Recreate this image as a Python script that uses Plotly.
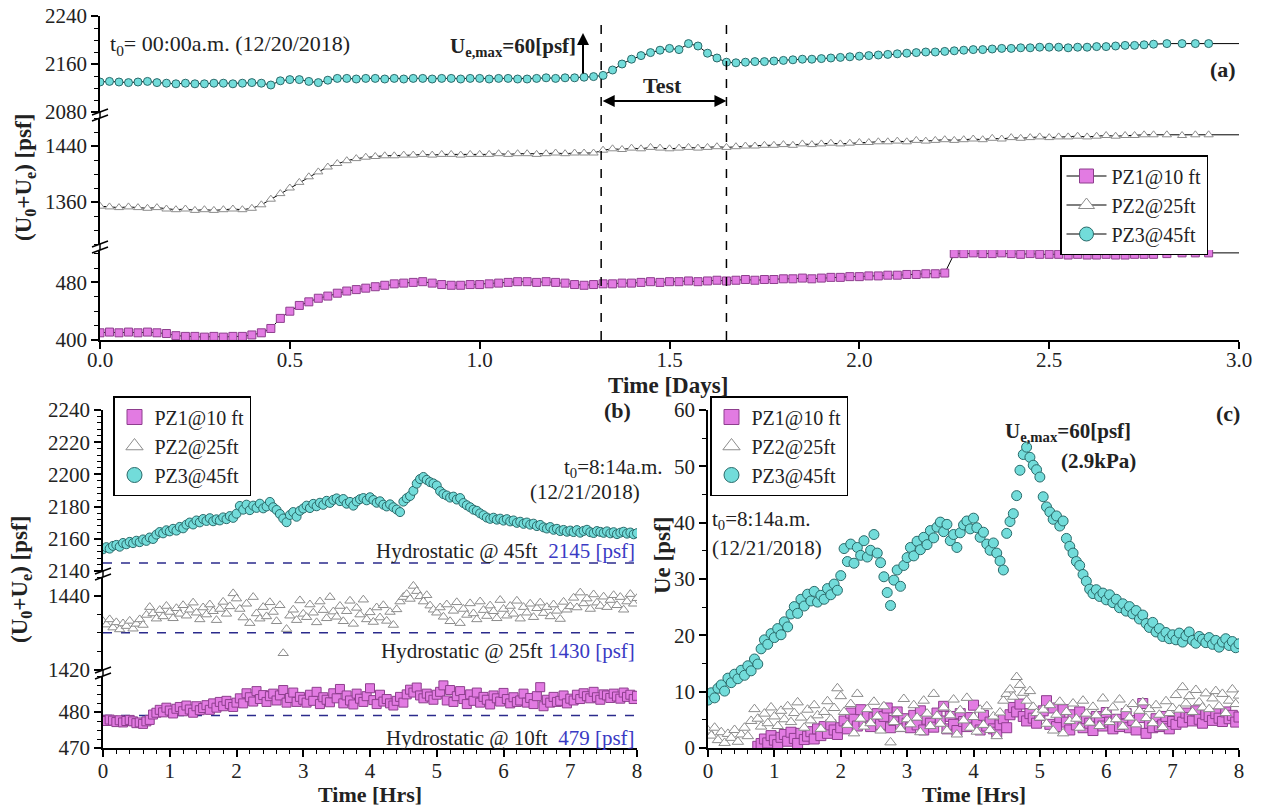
import plotly.graph_objects as go

W, H = 1261, 808
def px(x): return x / W
def py(y): return 1 - y / H

SERIF = "Liberation Serif, Times New Roman, serif"
TXT = "#222222"

# ---------------- Panel (a): long-term record, Time [Days] ----------------
a_step = 0.025
a_pz1 = [410, 411, 410, 411, 410, 411, 410, 409, 406, 405, 405,
         404, 405, 404, 405, 405, 407, 410, 416, 430, 440,
         448, 453, 458, 461, 465, 468, 470, 472, 474, 476,
         478, 479, 480, 481, 479, 477, 476, 476, 477, 477,
         478, 479, 480, 481, 481, 480, 481, 480, 479, 477,
         476, 477, 478, 478, 479, 479, 480, 481, 480, 481,
         481, 482, 481, 482, 483, 482, 483, 484, 483, 484,
         484, 485, 485, 486, 485, 486, 487, 487, 488, 488,
         489, 489, 490, 490, 491, 491, 492, 492, 493, 520,
         520, 521, 520, 520, 521, 520, 519, 520, 519, 519,
         519, 518, 519, 518, 518, 519, 518, 518, 519, 519,
         519]
a_pz2 = [1354, 1353, 1352, 1353, 1352, 1351, 1352, 1350, 1349, 1350, 1348,
         1349, 1348, 1349, 1350, 1349, 1351, 1356, 1364, 1372, 1380,
         1388, 1396, 1403, 1410, 1415, 1419, 1422, 1424, 1425, 1426,
         1426, 1427, 1427, 1428, 1427, 1428, 1428, 1427, 1428, 1428,
         1428, 1429, 1428, 1429, 1429, 1428, 1429, 1430, 1429, 1430,
         1430, 1430, 1434, 1436, 1435, 1437, 1436, 1438, 1437, 1436,
         1437, 1438, 1437, 1438, 1439, 1438, 1439, 1440, 1440, 1441,
         1441, 1442, 1441, 1443, 1442, 1443, 1444, 1443, 1444, 1445,
         1445, 1446, 1446, 1447, 1446, 1448, 1447, 1448, 1449, 1448,
         1449, 1450, 1449, 1451, 1450, 1452, 1451, 1452, 1453, 1452,
         1453, 1453, 1454, 1453, 1454, 1455, 1454, 1455, 1455, 1456,
         1456]
a_pz3 = [2130, 2131, 2130, 2129, 2130, 2131, 2129, 2128, 2127, 2128, 2127,
         2127, 2128, 2128, 2127, 2128, 2129, 2128, 2125, 2132, 2134,
         2134, 2131, 2129, 2133, 2136, 2136, 2135, 2136, 2136, 2135,
         2136, 2135, 2136, 2136, 2135, 2136, 2136, 2135, 2136, 2136,
         2135, 2136, 2136, 2135, 2135, 2136, 2137, 2136, 2137, 2137,
         2138, 2139, 2141, 2150, 2160, 2168, 2174, 2179, 2183, 2186,
         2184, 2194, 2190, 2178, 2170, 2163, 2162, 2163, 2164, 2164,
         2165, 2166, 2167, 2168, 2168, 2169, 2170, 2171, 2172, 2173,
         2174, 2175, 2176, 2177, 2178, 2179, 2180, 2180, 2181, 2182,
         2183, 2184, 2184, 2185, 2186, 2186, 2187, 2187, 2188, 2188,
         2188, 2187, 2188, 2188, 2189, 2189, 2190, 2191, 2191, 2192,
         2193]
a_days = [round(i * a_step, 3) for i in range(len(a_pz1))]
a_tail_days = [2.81, 2.85, 2.885, 2.92]
a_tail_pz1 = [520, 521, 521, 521]
a_tail_pz2 = [1456, 1455, 1456, 1456]
a_tail_pz3 = [2194, 2194, 2194, 2194]
a_end_day = 3.0
test_start, test_end = 1.32, 1.65

# ---------------- Panels (b) and (c): test period, Time [Hrs] ----------------
c_step = 0.05
ue_pz1 = [-1.2, -1.5, -1.1, -1.4, -1.8, -1.3, -1.9, -1.5, -1.2, -1.6, -2.1,
          -1.9, -2.3, -1.6, -1.2, 0.3, 0.8, 1.6, 0.9, 2.2, 1.4,
          0.6, 1.9, 2.4, 1.2, 2.8, 1.7, 0.8, 2.6, 1.5, 2.1,
          2.9, 1.6, 3.4, 2.2, 3.8, 2.6, 4.1, 3.2, 2.4, 3.6,
          4.8, 3.4, 6.2, 5.1, 3.9, 6.8, 4.6, 5.7, 3.8, 5.4,
          6.1, 4.2, 5.6, 7.1, 3.6, 4.9, 6.4, 3.8, 5.2, 4.4,
          3.6, 5.8, 4.1, 6.6, 3.2, 5.1, 4.4, 3.7, 6.2, 4.8,
          7.4, 3.4, 5.6, 4.2, 3.1, 6.1, 4.7, 3.8, 5.4, 7.6,
          4.3, 3.2, 5.8, 3.9, 4.6, 3.4, 2.8, 4.1, 5.2, 3.6,
          5.9, 7.2, 6.4, 7.8, 5.6, 4.8, 6.1, 5.3, 4.4, 5.8,
          6.6, 8.4, 4.2, 7.1, 3.8, 5.4, 6.8, 4.6, 3.2, 5.9,
          4.1, 6.4, 3.6, 5.2, 4.4, 3.1, 5.6, 4.8, 3.9, 6.3,
          4.6, 3.4, 5.1, 3.8, 4.2, 6.1, 3.6, 4.9, 3.2, 5.4,
          7.9, 2.6, 4.4, 3.6, 5.2, 3.8, 4.1, 5.6, 3.4, 4.7,
          4.2, 5.8, 4.6, 6.2, 5.4, 4.8, 6.6, 5.1, 4.4, 5.9,
          5.6, 4.9, 6.1, 5.3, 4.7, 6.4, 5.2, 5.8, 4.6, 5.5]
ue_pz2 = [3.1, 2.2, 3.6, 1.4, 2.8, 0.9, 2.5, 1.8, 3.2, 1.1, 2.4,
          3.6, 2.1, 4.8, 6.9, 5.2, 3.8, 6.1, 4.4, 7.2, 5.6,
          3.9, 6.6, 5.1, 7.4, 4.6, 6.2, 8.1, 5.4, 3.6, 6.8,
          4.9, 7.6, 5.8, 3.4, 6.4, 8.3, 5.1, 7.1, 10.6, 9.2,
          6.4, 4.1, 7.8, 2.6, 9.6, 5.2, 3.8, 6.9, 4.4, 8.2,
          5.6, 3.1, 7.4, -5.5, 1.0, 4.6, 6.2, 3.4, 8.7, 5.1,
          4.2, 7.6, 5.4, 2.8, 8.4, 6.1, 3.9, 9.6, 5.7, 4.3,
          7.2, 3.1, 5.8, 8.6, 2.4, 6.7, 4.9, 8.9, 3.6, 5.5,
          2.9, 6.8, 4.1, 7.4, 3.2, 5.6, 2.1, 6.3, 8.4, 9.6,
          10.4, 9.1, 12.6, 11.2, 9.8, 8.4, 10.1, 7.3, 6.2, 5.4,
          6.8, 4.3, 7.6, 3.1, 5.9, 8.2, 2.6, 6.4, 4.8, 7.9,
          5.2, 3.6, 8.4, 6.1, 4.5, 7.3, 5.8, 3.9, 8.8, 6.4,
          4.6, 7.2, 5.1, 8.6, 3.8, 6.9, 5.4, 7.8, 4.2, 6.6,
          8.1, 5.3, 6.9, 4.4, 7.6, 5.9, 3.7, 8.3, 6.2, 7.1,
          9.4, 6.8, 10.8, 7.9, 9.2, 6.4, 10.3, 8.1, 7.2, 9.7,
          6.9, 8.8, 10.1, 7.4, 9.6, 6.2, 8.4, 10.4, 7.8, 9.3]
ue_pz3 = [8.5, 9.8, 8.9, 10.6, 11.2, 10.1, 12.4, 11.6, 13.1, 12.3, 13.8,
          12.9, 14.6, 13.7, 15.8, 14.9, 17.6, 19.2, 18.4, 20.3, 19.6,
          21.2, 20.1, 22.4, 21.5, 23.8, 25.1, 23.9, 26.4, 25.2, 27.3,
          26.1, 27.8, 25.9, 27.1, 26.4, 28.3, 27.2, 29.1, 28.0, 30.6,
          35.4, 33.1, 36.2, 32.8, 35.6, 34.2, 36.8, 33.9, 35.1, 37.9,
          34.6, 32.9, 30.4, 27.6, 25.3, 29.8, 31.6, 28.7, 32.4, 33.8,
          35.6, 34.1, 36.7, 35.2, 37.4, 36.1, 38.6, 37.3, 39.2, 40.1,
          38.4, 39.7, 36.8, 37.9, 35.6, 38.2, 39.6, 40.3, 38.9, 40.8,
          39.1, 37.4, 38.3, 36.2, 35.1, 36.4, 34.6, 33.2, 31.6, 38.1,
          40.2, 41.6, 44.8, 49.3, 52.1, 53.4, 51.6, 50.2, 49.4, 48.1,
          44.6, 42.8, 41.9, 40.6, 41.2, 39.4, 40.3, 37.2, 35.8, 34.6,
          33.1, 32.4, 30.8, 29.6, 28.2, 27.4, 28.1, 26.9, 27.5, 26.3,
          27.2, 25.8, 26.4, 24.9, 25.6, 24.3, 25.1, 23.8, 24.4, 22.9,
          23.6, 22.1, 21.4, 22.3, 20.6, 21.2, 19.8, 20.5, 19.4, 20.1,
          19.2, 20.4, 18.8, 19.9, 20.6, 19.1, 18.6, 19.8, 19.3, 18.7,
          19.6, 18.4, 19.1, 17.9, 18.8, 19.4, 18.2, 18.9, 17.8, 18.5]
c_hours = [round(i * c_step, 2) for i in range(len(ue_pz3))]
hydro_pz1, hydro_pz2, hydro_pz3 = 479, 1430, 2145
b_pz1 = [hydro_pz1 + v for v in ue_pz1]
b_pz2 = [hydro_pz2 + v for v in ue_pz2]
b_pz3 = [hydro_pz3 + v for v in ue_pz3]

names = ["PZ1@10 ft", "PZ2@25ft", "PZ3@45ft"]

# ---------------- styles ----------------
PZ1_FILL, PZ1_EDGE = "#E27BE2", "#8E3E8E"
PZ2_FILL, PZ2_EDGE = "#FFFFFF", "#8C8C8C"
PZ3_FILL, PZ3_EDGE = "#72DCDA", "#2A6A6A"

def mk(symbol, fill, edge, size):
    return dict(symbol=symbol, color=fill, size=size, line=dict(color=edge, width=1))

sty = [("square", PZ1_FILL, PZ1_EDGE), ("triangle-up", PZ2_FILL, PZ2_EDGE), ("circle", PZ3_FILL, PZ3_EDGE)]

fig = go.Figure()

# panel (a)
a_series = [(a_pz1, a_tail_pz1, "y"), (a_pz2, a_tail_pz2, "y2"), (a_pz3, a_tail_pz3, "y3")]
for i, (vals, tail, ya) in enumerate(a_series):
    xs = a_days + a_tail_days
    ys = vals + tail
    fig.add_trace(go.Scatter(x=xs + [a_end_day], y=ys + [ys[-1]], mode="lines",
                             line=dict(color="black", width=1), xaxis="x", yaxis=ya,
                             showlegend=False, hoverinfo="skip"))
    fig.add_trace(go.Scatter(x=xs, y=ys, mode="markers", showlegend=False,
                             marker=mk(sty[i][0], sty[i][1], sty[i][2], 8),
                             xaxis="x", yaxis=ya))
    fig.add_trace(go.Scatter(x=[None], y=[None], mode="lines+markers", name=names[i],
                             line=dict(color="black", width=1.2),
                             marker=mk(sty[i][0], sty[i][1], sty[i][2], 14),
                             xaxis="x", yaxis=ya, legend="legend"))

# panel (b)
for i, (vals, ya) in enumerate([(b_pz1, "y4"), (b_pz2, "y5"), (b_pz3, "y6")]):
    fig.add_trace(go.Scatter(x=c_hours, y=vals, mode="markers", showlegend=False,
                             marker=mk(sty[i][0], sty[i][1], sty[i][2], 9),
                             xaxis="x2", yaxis=ya))
    fig.add_trace(go.Scatter(x=[None], y=[None], mode="markers", name=names[i],
                             marker=mk(sty[i][0], sty[i][1], sty[i][2], 15),
                             xaxis="x2", yaxis=ya, legend="legend2"))

# panel (c)
for i, vals in enumerate([ue_pz1, ue_pz2, ue_pz3]):
    fig.add_trace(go.Scatter(x=c_hours, y=vals, mode="markers", showlegend=False,
                             marker=mk(sty[i][0], sty[i][1], sty[i][2], 10),
                             xaxis="x3", yaxis="y7"))
    fig.add_trace(go.Scatter(x=[None], y=[None], mode="markers", name=names[i],
                             marker=mk(sty[i][0], sty[i][1], sty[i][2], 15),
                             xaxis="x3", yaxis="y7", legend="legend3"))

tickfont = dict(family=SERIF, size=21, color=TXT)
def axis(**kw):
    d = dict(showline=True, linecolor="black", linewidth=1.5, ticks="outside",
             tickcolor="black", tickwidth=1.5, ticklen=7, showgrid=False,
             zeroline=False, tickfont=tickfont, fixedrange=True, automargin=False)
    d.update(kw)
    return d

def minor(dt):
    return dict(dtick=dt, ticks="outside", ticklen=4, tickcolor="black", tickwidth=1, showgrid=False)

fig.update_layout(
    template="none",
    width=W, height=H, margin=dict(l=0, r=0, t=0, b=0, pad=0), autosize=False,
    paper_bgcolor="white", plot_bgcolor="rgba(0,0,0,0)",
    font=dict(family=SERIF, color=TXT),
    xaxis=axis(domain=[px(100), px(1239)], range=[0, 3], anchor="y",
               tickvals=[0, 0.5, 1.0, 1.5, 2.0, 2.5, 3.0], tickformat=".1f",
               ticklabelstandoff=-7),
    yaxis=axis(domain=[py(340), py(250)], range=[400, 525], anchor="x",
               tickvals=[400, 480], minor=minor(20)),
    yaxis2=axis(domain=[py(244), py(118)], range=[1300, 1480], anchor="x",
                tickvals=[1360, 1440], minor=minor(20)),
    yaxis3=axis(domain=[py(112), py(16)], range=[2080, 2240], anchor="x",
                tickvals=[2080, 2160, 2240], minor=minor(20)),
    xaxis2=axis(domain=[px(103), px(637)], range=[0, 8], anchor="y4",
                dtick=1, minor=minor(0.2), ticklabelstandoff=-4),
    yaxis4=axis(domain=[py(748), py(676)], range=[470, 490], anchor="x2",
                tickvals=[470, 480], minor=minor(2.5)),
    yaxis5=axis(domain=[py(670), py(577)], range=[1420, 1445], anchor="x2",
                tickvals=[1420, 1440], minor=minor(5)),
    yaxis6=axis(domain=[py(571), py(410)], range=[2140, 2240], anchor="x2",
                dtick=20, minor=minor(4)),
    xaxis3=axis(domain=[px(708), px(1239)], range=[0, 8], anchor="y7",
                dtick=1, minor=minor(0.2), ticklabelstandoff=-4),
    yaxis7=axis(domain=[py(748), py(410)], range=[0, 60], anchor="x3",
                dtick=10, minor=minor(5)),
)

leg_common = dict(bgcolor="white", bordercolor="black", borderwidth=1.5,
                  font=dict(family=SERIF, size=20, color=TXT),
                  xanchor="left", yanchor="top", itemsizing="trace",
                  tracegroupgap=0)
fig.update_layout(
    legend=dict(leg_common, x=px(1060), y=py(155), itemwidth=40),
    legend2=dict(leg_common, x=px(113), y=py(396)),
    legend3=dict(leg_common, x=px(710), y=py(396)),
)

shapes = []
for d in (test_start, test_end):
    shapes.append(dict(type="line", xref="x", yref="paper", x0=d, x1=d,
                       y0=py(340), y1=py(16), line=dict(color="black", width=1.5, dash="dash")))
HYD = "#2B2B8C"
for ya, v in (("y6", hydro_pz3), ("y5", hydro_pz2), ("y4", hydro_pz1)):
    shapes.append(dict(type="line", xref="x2", yref=ya, x0=0, x1=8, y0=v, y1=v,
                       layer="below", line=dict(color=HYD, width=1.5, dash="dash")))

def brk(xp, y_top, y_bot):
    ym = (y_top + y_bot) / 2
    out = [dict(type="line", xref="paper", yref="paper", x0=px(xp), x1=px(xp),
                y0=py(y_bot), y1=py(y_top), line=dict(color="black", width=1.5))]
    for off in (-3, 3):
        out.append(dict(type="line", xref="paper", yref="paper",
                        x0=px(xp - 8), x1=px(xp + 8), y0=py(ym + off + 3), y1=py(ym + off - 3),
                        line=dict(color="black", width=1.5)))
    return out

shapes += brk(100, 112, 118) + brk(100, 244, 250)
shapes += brk(103, 571, 577) + brk(103, 670, 676)
fig.update_layout(shapes=shapes)

anns = []
def ann(text, x, y, size=22, xanchor="center", color=TXT, angle=0):
    anns.append(dict(text=text, x=px(x), y=py(y), xref="paper", yref="paper",
                     xanchor=xanchor, yanchor="middle", showarrow=False, textangle=angle,
                     font=dict(family=SERIF, size=size, color=color)))

# panel (a) texts
ann("t<sub>0</sub>= 00:00a.m. (12/20/2018)", 108, 45, 22, "left")
ann("<b>U<sub>e,max</sub>=60[psf]</b>", 578, 47, 21, "right")
ann("<b>Test</b>", 662, 86, 22)
ann("<b>(a)</b>", 1238, 70, 22, "right")
ann("<b>(U<sub>0</sub>+U<sub>e</sub>) [psf]</b>", 25, 178, 23, angle=-90)
ann("<b>Time [Days]</b>", 668, 385, 23)
anns.append(dict(x=px(583), y=py(33), xref="paper", yref="paper", ax=0, ay=42,
                 showarrow=True, arrowhead=2, arrowsize=1.2, arrowwidth=2, arrowcolor="black", text=""))
anns.append(dict(x=test_end, y=py(101), xref="x", yref="paper", ax=test_start, ay=0,
                 axref="x", ayref="pixel", showarrow=True, arrowhead=2, arrowside="end+start",
                 arrowsize=1.2, arrowwidth=2, arrowcolor="black", text=""))

# panel (b) texts
ann("<b>(b)</b>", 617, 410, 22)
ann("t<sub>0</sub>=8:14a.m.", 562, 468, 21, "left")
ann("(12/21/2018)", 642, 492, 21, "right")
blue = "#3A3AC4"
ann("Hydrostatic @ 45ft  <span style='color:%s'>2145 [psf]</span>" % blue, 637, 551, 21, "right")
ann("Hydrostatic @ 25ft <span style='color:%s'>1430 [psf]</span>" % blue, 637, 651, 21, "right")
ann("Hydrostatic @ 10ft  <span style='color:%s'>479 [psf]</span>" % blue, 637, 738, 21, "right")
ann("<b>(U<sub>0</sub>+U<sub>e</sub>) [psf]</b>", 21, 580, 23, angle=-90)
ann("<b>Time [Hrs]</b>", 370, 794, 22)

# panel (c) texts
ann("<b>U<sub>e,max</sub>=60[psf]</b>", 1068, 432, 21)
ann("<b>(2.9kPa)</b>", 1098, 461, 21)
ann("<b>(c)</b>", 1228, 413, 22)
ann("t<sub>0</sub>=8:14a.m.", 710, 520, 21, "left")
ann("(12/21/2018)", 710, 548, 21, "left")
ann("<b>Ue [psf]</b>", 662, 556, 23, angle=-90)
ann("<b>Time [Hrs]</b>", 974, 794, 22)

fig.update_layout(annotations=anns)

fig.write_html("out.html", config={"displayModeBar": False},
               post_script="document.body.style.margin='0px';document.body.style.overflow='hidden';")
